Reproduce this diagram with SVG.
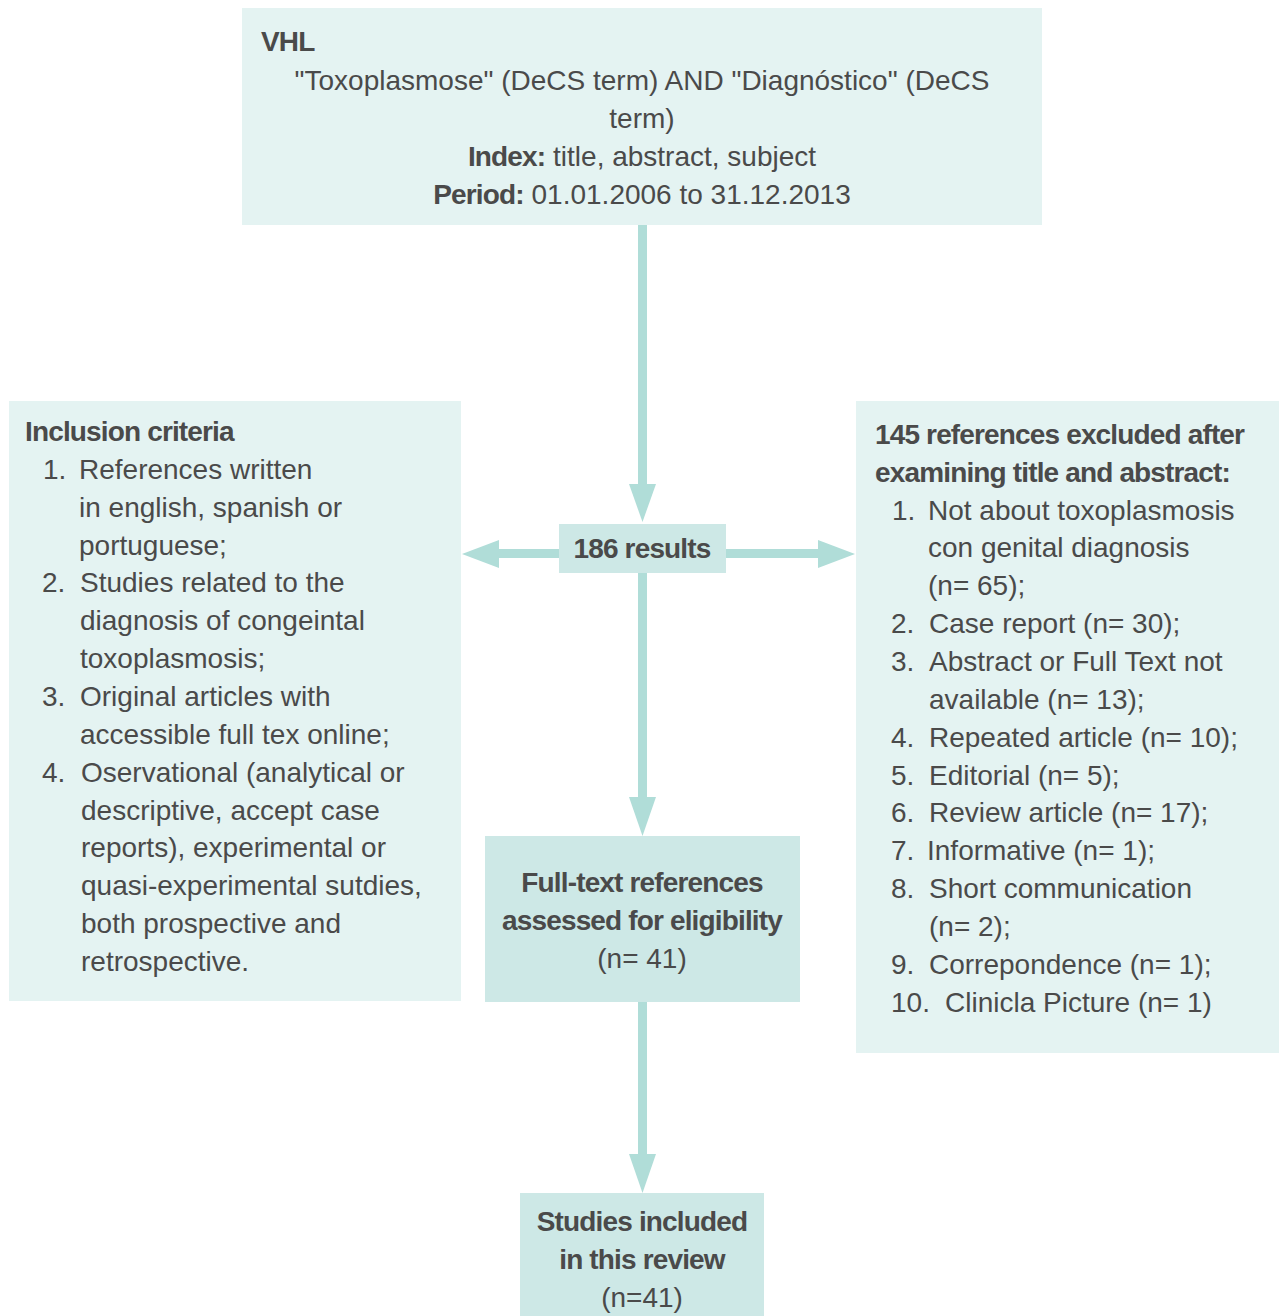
<svg xmlns="http://www.w3.org/2000/svg" width="1279" height="1316" viewBox="0 0 1279 1316">
<style>
.lt{fill:#e4f3f2}
.dk{fill:#cde8e6}
.ar{fill:#b0ddd8}
text{font-family:"Liberation Sans",Arial,sans-serif;font-size:28px;fill:#4a4a4a}
.b{font-weight:bold;letter-spacing:-0.85px}
.c{text-anchor:middle}
</style>
<rect width="1279" height="1316" fill="#ffffff"/>
<g id="connectors">
<rect class="ar" x="638" y="225" width="9" height="260"/>
<polygon class="ar" points="629,484 656,484 642.5,522"/>
<rect class="ar" x="497" y="549" width="63" height="9"/>
<polygon class="ar" points="499,540 499,568 462,554"/>
<rect class="ar" x="725" y="549" width="94" height="9"/>
<polygon class="ar" points="818,540 818,568 855,554"/>
<rect class="ar" x="638" y="572" width="9" height="226"/>
<polygon class="ar" points="629,797 656,797 642.5,836"/>
<rect class="ar" x="638" y="1001" width="9" height="154"/>
<polygon class="ar" points="629,1154 656,1154 642.5,1193"/>
</g>
<g id="vhl">
<rect class="lt" x="242" y="8" width="800" height="217"/>
<text class="b" x="261" y="51">VHL</text>
<text class="c" x="642" y="90">"Toxoplasmose" (DeCS term) AND "Diagnóstico" (DeCS</text>
<text class="c" x="642" y="128">term)</text>
<text class="c" x="642" y="166"><tspan class="b">Index:</tspan> title, abstract, subject</text>
<text class="c" x="642" y="204"><tspan class="b">Period:</tspan> 01.01.2006 to 31.12.2013</text>
</g>
<g id="inclusion">
<rect class="lt" x="9" y="401" width="452" height="600"/>
<text class="b" x="25" y="441">Inclusion criteria</text>
<text x="43" y="479">1.</text><text x="79" y="479">References written</text>
<text x="79" y="517">in english, spanish or</text>
<text x="79" y="555">portuguese;</text>
<text x="42" y="592">2.</text><text x="80" y="592">Studies related to the</text>
<text x="80" y="630">diagnosis of congeintal</text>
<text x="80" y="668">toxoplasmosis;</text>
<text x="42" y="706">3.</text><text x="80" y="706">Original articles with</text>
<text x="80" y="744">accessible full tex online;</text>
<text x="42" y="782">4.</text><text x="81" y="782">Oservational (analytical or</text>
<text x="81" y="820">descriptive, accept case</text>
<text x="81" y="857">reports), experimental or</text>
<text x="81" y="895">quasi-experimental sutdies,</text>
<text x="81" y="933">both prospective and</text>
<text x="81" y="971">retrospective.</text>
</g>
<g id="results">
<rect class="dk" x="559" y="524" width="167" height="49"/>
<text class="b c" x="642" y="558">186 results</text>
</g>
<g id="excluded">
<rect class="lt" x="856" y="401" width="423" height="652"/>
<text class="b" x="875" y="444">145 references excluded after</text>
<text class="b" x="875" y="482">examining title and abstract:</text>
<text x="892" y="520">1.</text><text x="928" y="520">Not about toxoplasmosis</text>
<text x="928" y="557">con genital diagnosis</text>
<text x="928" y="595">(n= 65);</text>
<text x="891" y="633">2.</text><text x="929" y="633">Case report (n= 30);</text>
<text x="891" y="671">3.</text><text x="929" y="671">Abstract or Full Text not</text>
<text x="929" y="709">available (n= 13);</text>
<text x="891" y="747">4.</text><text x="929" y="747">Repeated article (n= 10);</text>
<text x="891" y="785">5.</text><text x="929" y="785">Editorial (n= 5);</text>
<text x="891" y="822">6.</text><text x="929" y="822">Review article (n= 17);</text>
<text x="891" y="860">7.</text><text x="927" y="860">Informative (n= 1);</text>
<text x="891" y="898">8.</text><text x="929" y="898">Short communication</text>
<text x="929" y="936">(n= 2);</text>
<text x="891" y="974">9.</text><text x="929" y="974">Correpondence (n= 1);</text>
<text x="891" y="1012">10.</text><text x="945" y="1012">Clinicla Picture (n= 1)</text>
</g>
<g id="fulltext">
<rect class="dk" x="485" y="836" width="315" height="166"/>
<text class="b c" x="642" y="892">Full-text references</text>
<text class="b c" x="642" y="930">assessed for eligibility</text>
<text class="c" x="642" y="968">(n= 41)</text>
</g>
<g id="included">
<rect class="dk" x="520" y="1193" width="244" height="123"/>
<text class="b c" x="642" y="1231">Studies included</text>
<text class="b c" x="642" y="1269">in this review</text>
<text class="c" x="642" y="1307">(n=41)</text>
</g>
</svg>
